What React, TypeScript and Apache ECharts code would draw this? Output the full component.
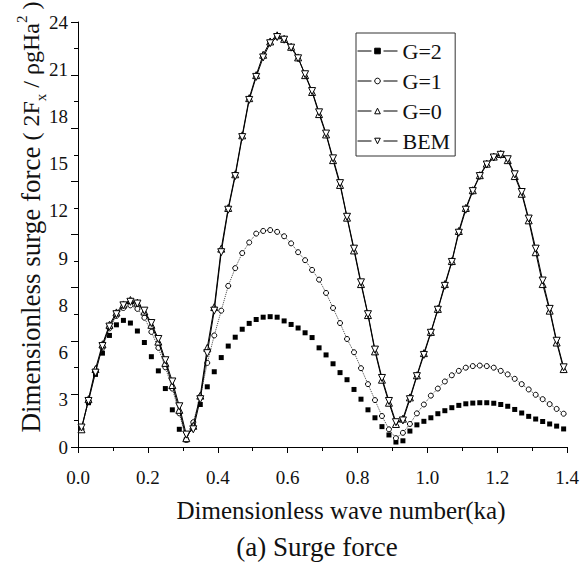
import React, { useEffect, useRef } from 'react';
import * as echarts from 'echarts';

// Dimensionless wave number ka
const waveNumbers = [
  0.01, 0.03, 0.05, 0.07, 0.09, 0.11, 0.13, 0.15, 0.17, 0.19,
  0.21, 0.23, 0.25, 0.27, 0.29, 0.31, 0.33, 0.35, 0.37, 0.39,
  0.41, 0.43, 0.45, 0.47, 0.49, 0.51, 0.53, 0.55, 0.57, 0.59,
  0.61, 0.63, 0.65, 0.67, 0.69, 0.71, 0.73, 0.75, 0.77, 0.79,
  0.81, 0.83, 0.85, 0.87, 0.89, 0.91, 0.93, 0.95, 0.97, 0.99,
  1.01, 1.03, 1.05, 1.07, 1.09, 1.11, 1.13, 1.15, 1.17, 1.19,
  1.21, 1.23, 1.25, 1.27, 1.29, 1.31, 1.33, 1.35, 1.37, 1.39,
];

const surgeG2 = [
  1.0, 2.5, 4.1, 5.3, 6.3, 6.9, 7.15, 7.0, 6.55, 5.9,
  5.1, 4.3, 3.3, 2.1, 1.0, 0.4, 1.2, 2.4, 3.4, 4.25,
  5.05, 5.7, 6.2, 6.65, 6.98, 7.2, 7.33, 7.36, 7.33, 7.12,
  6.92, 6.72, 6.45, 6.18, 5.6, 5.2, 4.7, 4.2, 3.8, 3.25,
  2.7, 2.1, 1.65, 1.15, 0.68, 0.28, 0.35, 0.9, 1.25, 1.45,
  1.65, 1.88, 2.05, 2.22, 2.35, 2.44, 2.48, 2.5, 2.5, 2.47,
  2.4, 2.3, 2.12, 1.92, 1.73, 1.58, 1.44, 1.3, 1.18, 1.02,
];

const surgeG1 = [
  1.0, 2.6, 4.3, 5.6, 6.7, 7.4, 7.85, 8.0, 7.8, 7.3,
  6.5, 5.6, 4.5, 3.3, 1.9, 0.4, 1.4, 2.84, 4.75, 6.3,
  7.7, 9.1, 10.1, 10.95, 11.55, 12.05, 12.2, 12.25, 12.15, 11.9,
  11.5, 11.0, 10.55, 10.0, 9.45, 8.7, 7.85, 7.0, 6.1, 5.35,
  4.45, 3.55, 2.65, 1.75, 1.0, 0.5, 0.8, 1.3, 1.9, 2.4,
  2.9, 3.3, 3.7, 4.05, 4.3, 4.48, 4.57, 4.6, 4.57, 4.48,
  4.3, 4.1, 3.85, 3.55, 3.25, 2.95, 2.7, 2.42, 2.15, 1.88,
];

const surgeG0 = [
  1.0, 2.7, 4.4, 5.8, 6.9, 7.6, 8.05, 8.3, 8.15, 7.65,
  6.9, 5.95, 4.75, 3.5, 2.1, 0.5, 1.2, 2.9, 5.6, 7.9,
  11.2, 13.5, 15.4, 17.6, 19.7, 21.0, 22.15, 22.9, 23.25, 23.05,
  22.6, 22.0, 21.0, 20.05, 18.8, 17.65, 16.2, 14.8, 12.95, 11.1,
  9.2, 7.45, 5.4, 3.8, 2.5, 1.3, 1.6, 2.8, 4.05, 5.3,
  6.5, 7.8, 9.2, 10.5, 12.2, 13.5, 14.5, 15.35, 16.0, 16.4,
  16.55, 16.2, 15.3, 14.3, 12.8, 11.0, 9.2, 7.7, 5.9, 4.4,
];

const surgeBEM = [
  1.1, 2.6, 4.2, 5.7, 6.8, 7.5, 8.0, 8.2, 8.1, 7.7,
  7.0, 6.1, 4.9, 3.7, 2.3, 0.7, 1.0, 2.7, 5.3, 7.7,
  11.0, 13.4, 15.3, 17.5, 19.6, 20.9, 22.0, 22.8, 23.15, 23.0,
  22.55, 21.95, 21.05, 20.1, 18.9, 17.7, 16.3, 14.9, 13.0, 11.2,
  9.3, 7.5, 5.5, 3.9, 2.6, 1.4, 1.5, 2.7, 4.0, 5.2,
  6.45, 7.75, 9.1, 10.45, 12.1, 13.4, 14.45, 15.3, 15.95, 16.35,
  16.5, 16.25, 15.4, 14.4, 12.9, 11.2, 9.4, 7.8, 6.0, 4.5,
];

const seriesNames = ['G=2', 'G=1', 'G=0', 'BEM'];
// tick label texts as printed on the reference's vertical axis (evenly spaced)
const yTickLabels = ['0', '3', '6', '8', '9', '12', '15', '18', '21', '24'];
const xAxisTitle = 'Dimensionless wave number(ka)';
const yAxisTitleMain = 'Dimensionless surge force';
const caption = '(a) Surge force';

const FONT = '"Liberation Serif", "Times New Roman", serif';
const INK = '#111';

export default function App() {
  const ref = useRef<HTMLDivElement>(null);

  useEffect(() => {
    if (!ref.current) return;
    const chart = echarts.init(ref.current, null, { renderer: 'svg' });
    const pairs = (vals: number[]) => waveNumbers.map((x, i) => [x, vals[i]]);
    const legendLine = { color: '#000', width: 1, opacity: 1, type: [14, 12] as any };
    const openMarker = { color: '#fff', borderColor: '#000', borderWidth: 1 };

    const option: any = {
      animation: false,
      backgroundColor: '#fff',
      grid: { left: 78, right: 10, top: 22, bottom: 116, containLabel: false },
      legend: {
        orient: 'vertical',
        left: 356,
        top: 33,
        padding: [7, 5, 4, 1],
        itemWidth: 40,
        itemHeight: 7,
        itemGap: 8,
        borderColor: '#333',
        borderWidth: 1,
        backgroundColor: '#fff',
        itemStyle: { borderWidth: 1 },
        textStyle: { fontFamily: FONT, fontSize: 22, color: INK, lineHeight: 22 },
        data: seriesNames.map((n) => ({ name: n, lineStyle: legendLine })),
      },
      xAxis: {
        type: 'value',
        min: 0,
        max: 1.4,
        interval: 0.2,
        axisLine: { show: true, onZero: false, lineStyle: { color: '#000', width: 1 } },
        axisTick: { show: true, length: 6, lineStyle: { color: '#000' } },
        minorTick: { show: true, splitNumber: 2, length: 4, lineStyle: { color: '#000' } },
        splitLine: { show: false },
        axisLabel: {
          fontFamily: FONT,
          fontSize: 19,
          color: INK,
          margin: 21,
          formatter: (v: number) => v.toFixed(1),
        },
      },
      yAxis: [
        {
          type: 'value',
          min: 0,
          max: 24,
          interval: 3,
          axisLine: { show: true, onZero: false, lineStyle: { color: '#000', width: 1 } },
          axisTick: { show: true, length: 7, lineStyle: { color: '#000' } },
          minorTick: { show: true, splitNumber: 2, length: 4, lineStyle: { color: '#000' } },
          splitLine: { show: false },
          axisLabel: { show: false },
        },
        {
          type: 'value',
          position: 'left',
          min: 0,
          max: yTickLabels.length - 1,
          interval: 1,
          axisLine: { show: false },
          axisTick: { show: false },
          splitLine: { show: false },
          axisLabel: {
            fontFamily: FONT,
            fontSize: 19,
            color: INK,
            margin: 10,
            formatter: (v: number) => yTickLabels[Math.round(v)] ?? '',
          },
        },
      ],
      series: [
        {
          name: 'G=2',
          type: 'line',
          data: pairs(surgeG2),
          symbol: 'rect',
          symbolSize: 5,
          showAllSymbol: true,
          itemStyle: { color: '#000', borderColor: '#000', borderWidth: 0 },
          lineStyle: { width: 0, opacity: 0 },
          z: 2,
        },
        {
          name: 'G=1',
          type: 'line',
          data: pairs(surgeG1),
          symbol: 'circle',
          symbolSize: 5,
          showAllSymbol: true,
          itemStyle: openMarker,
          lineStyle: { width: 1, color: '#444', type: 'dotted' },
          z: 3,
        },
        {
          name: 'G=0',
          type: 'line',
          data: pairs(surgeG0),
          symbol: 'triangle',
          symbolSize: 7,
          showAllSymbol: true,
          itemStyle: openMarker,
          lineStyle: { width: 1, color: '#000' },
          z: 4,
        },
        {
          name: 'BEM',
          type: 'line',
          data: pairs(surgeBEM),
          symbol: 'triangle',
          symbolRotate: 180,
          symbolSize: 7,
          showAllSymbol: true,
          itemStyle: openMarker,
          lineStyle: { width: 1, color: '#000' },
          z: 5,
        },
      ],
      graphic: [
        {
          type: 'text',
          x: 31,
          y: 217,
          rotation: Math.PI / 2,
          style: {
            text: `{n|${yAxisTitleMain}}{q| ( 2F}{s|x}{q| / ρgHa}{p|2}{q| )}`,
            align: 'center',
            verticalAlign: 'middle',
            rich: {
              n: { fontFamily: FONT, fontSize: 27, lineHeight: 34, fill: INK },
              q: { fontFamily: FONT, fontSize: 24, lineHeight: 34, fill: INK },
              s: { fontFamily: FONT, fontSize: 15, lineHeight: 15, verticalAlign: 'bottom', fill: INK },
              p: { fontFamily: FONT, fontSize: 15, lineHeight: 15, verticalAlign: 'top', fill: INK },
            },
          },
        },
        {
          type: 'text',
          x: 341,
          y: 510,
          style: {
            text: xAxisTitle,
            fontFamily: FONT,
            fontSize: 25,
            fill: INK,
            align: 'center',
            verticalAlign: 'middle',
          },
        },
        {
          type: 'text',
          x: 317,
          y: 547,
          style: {
            text: caption,
            fontFamily: FONT,
            fontSize: 27,
            fill: INK,
            align: 'center',
            verticalAlign: 'middle',
          },
        },
      ],
    };

    chart.setOption(option);
    return () => chart.dispose();
  }, []);

  return (
    <div
      ref={ref}
      style={{ position: 'fixed', left: 0, top: 0, width: 582, height: 563, background: '#fff' }}
    />
  );
}
